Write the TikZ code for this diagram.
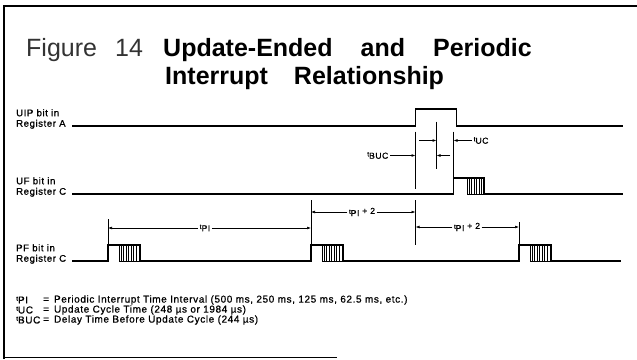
\documentclass[tikz,border=0pt]{standalone}
\usepackage{fontspec}
\setmainfont{Liberation Sans}
\newfontfamily\lblfont[LetterSpace=6,FakeBold=0.8]{Liberation Sans}
\usetikzlibrary{arrows.meta}
\newcommand{\tsb}[1]{{\fontsize{6.5}{7}\selectfont t}\raisebox{-0.5ex}{#1}}

\begin{document}
\begin{tikzpicture}[x=1pt,y=-1pt,
  sig/.style={line width=1.3pt},
  ext/.style={line width=0.7pt},
  dim/.style={line width=0.6pt,-{Latex[length=4pt,width=2.8pt]}},
  hatch/.style={line width=0.5pt},
  head/.style={anchor=base west,inner sep=0pt,font=\fontsize{25}{29}\selectfont},
  lbl/.style={font=\lblfont\fontsize{9.6}{10.5}\selectfont,align=left,inner sep=0pt,anchor=west},
  key/.style={font=\lblfont\fontsize{10}{11}\selectfont,inner sep=0pt,anchor=west},
  tlbl/.style={font=\lblfont\fontsize{8.6}{10}\selectfont,inner sep=1.5pt,fill=white}]
  \useasboundingbox (0,0) rectangle (637,359);
  % ---- frame and title ----
  \draw[line width=1.2pt] (4,359) -- (4,6) -- (637,6);
  \draw[line width=1pt] (4,357) -- (337,357);
  \node[head, text=black!80] (fig) at (26,56) {Figure};
  \node[head, text=black!80] (num) at (115,56) {14};
  \node[head, font=\fontsize{25}{29}\bfseries] (title1) at (163,56)
    {Update-Ended\hspace{28pt}and\hspace{28pt}Periodic};
  \node[head, font=\fontsize{25}{29}\bfseries] (title2) at (165,84)
    {Interrupt\hspace{26pt}Relationship};
  % ---- signal names ----
  \node[lbl] (uip) at (16,119) {UIP bit in\\Register A};
  \node[lbl] (uf) at (16,187) {UF bit in\\Register C};
  \node[lbl] (pf) at (16,254) {PF bit in\\Register C};
  % ---- UIP ----
  \draw[sig] (72,126) -- (415.5,126) -- (415.5,109) -- (456.5,109) -- (456.5,126) -- (623,126);
  % ---- UF ----
  \draw[sig] (72,194) -- (453.5,194) -- (453.5,178) -- (484,178) -- (484,194) -- (623,194);
  \draw[hatch] (467,178) rectangle (484,194);
  \foreach \h in {469,471.5,...,482} \draw[hatch] (\h,178) -- (\h,194);
  % ---- PF ----
  \draw[sig] (72,261) \foreach \r in {108,311,519} { -- (\r,261) -- (\r,245) -- (\r+32,245) -- (\r+32,261) } -- (621,261);
  \foreach \r in {108,311,519} {
    \draw[hatch] (\r+11,245) rectangle (\r+32,261);
    \foreach \h in {13,15.5,...,30} \draw[hatch] (\r+\h,245) -- (\r+\h,261);
  }
  % ---- extension lines ----
  \coordinate (a1) at (415.5,131.5);
  \coordinate (a2) at (415.5,189);
  \coordinate (a3) at (415.5,200);
  \coordinate (a4) at (415.5,245);
  \coordinate (m1) at (436.5,121.5);
  \coordinate (m2) at (436.5,169);
  \coordinate (u1) at (453.5,131.5);
  \coordinate (u2) at (453.5,178);
  \coordinate (p1) at (108,219);
  \coordinate (p2) at (108,245);
  \coordinate (q1) at (311,200);
  \coordinate (q2) at (311,245);
  \coordinate (r1) at (519,222);
  \coordinate (r2) at (519,245);
  \draw[ext] (a1) -- (a2) (a3) -- (a4) (m1) -- (m2) (u1) -- (u2)
             (p1) -- (p2) (q1) -- (q2) (r1) -- (r2);
  % ---- periods ----
  \node[tlbl] (tpi) at (205,228) {\tsb{PI}};
  \draw[dim] (tpi) -- (p1 |- tpi);
  \draw[dim] (tpi) -- (q1 |- tpi);
  \node[tlbl] (tpia) at (362,212) {\tsb{PI}\ +\ 2};
  \draw[dim] (tpia) -- (q1 |- tpia);
  \draw[dim] (tpia) -- (a3 |- tpia);
  \node[tlbl] (tpib) at (467,227) {\tsb{PI}\ +\ 2};
  \draw[dim] (tpib) -- (a3 |- tpib);
  \draw[dim] (tpib) -- (r1 |- tpib);
  % ---- update cycle ----
  \node[tlbl, fill=none, anchor=east] (tbuc) at (390,155.5) {\tsb{BUC}};
  \draw[dim] (tbuc) -- (a1 |- tbuc);
  \coordinate (bs) at (450,155.5);
  \draw[dim] (bs) -- (m1 |- bs);
  \coordinate (us) at (419,140.5);
  \draw[dim] (us) -- (m1 |- us);
  \node[tlbl, fill=none, anchor=west] (tuc) at (472,140.5) {\tsb{UC}};
  \draw[dim] (tuc) -- (u1 |- tuc);
  % ---- legend ----
  \node[key] (k1) at (16,300) {\tsb{PI}};
  \node[key] (k2) at (16,310) {\tsb{UC}};
  \node[key] (k3) at (16,320) {\tsb{BUC}};
  \node[key] (d1) at (43,300) {=\hspace{5pt}Periodic Interrupt Time Interval (500 ms, 250 ms, 125 ms, 62.5 ms, etc.)};
  \node[key] (d2) at (43,310) {=\hspace{5pt}Update Cycle Time (248 µs or 1984 µs)};
  \node[key] (d3) at (43,320) {=\hspace{5pt}Delay Time Before Update Cycle (244 µs)};
\end{tikzpicture}
\end{document}
